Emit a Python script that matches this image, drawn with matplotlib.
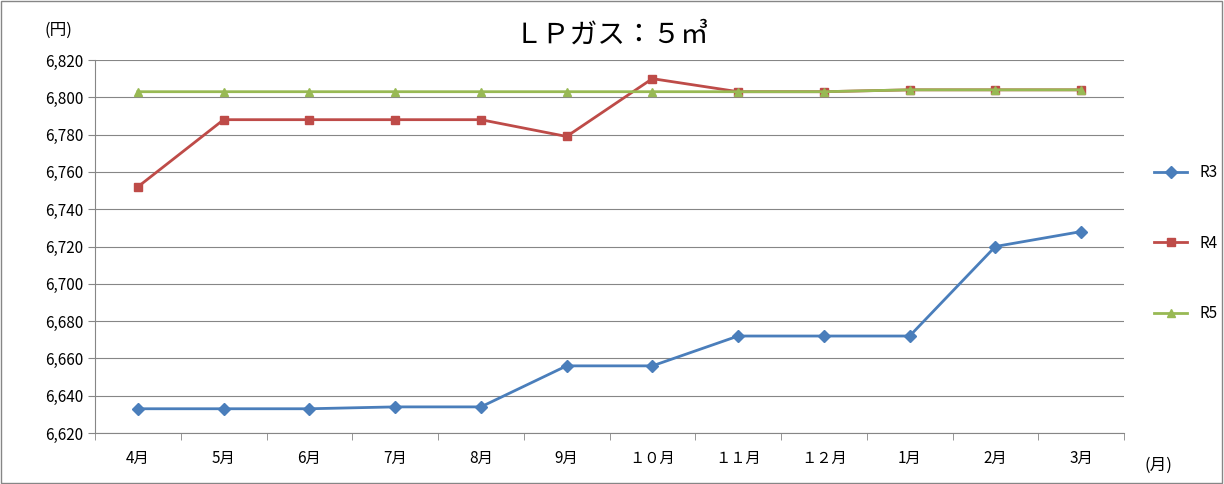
import matplotlib
matplotlib.use("Agg")
import matplotlib.pyplot as plt

plt.rcParams["font.family"] = ["Noto Sans CJK JP"]

months = ["4月", "5月", "6月", "7月", "8月", "9月", "１０月", "１１月", "１２月", "1月", "2月", "3月"]
r3 = [6633, 6633, 6633, 6634, 6634, 6656, 6656, 6672, 6672, 6672, 6720, 6728]
r4 = [6752, 6788, 6788, 6788, 6788, 6779, 6810, 6803, 6803, 6804, 6804, 6804]
r5 = [6803, 6803, 6803, 6803, 6803, 6803, 6803, 6803, 6803, 6804, 6804, 6804]
yticks = list(range(6620, 6821, 20))

fig = plt.figure(figsize=(12.24, 4.84), dpi=100)
ax = fig.add_axes([95/1224, 1-433/484, (1124-95)/1224, (433-60)/484])
x = range(len(months))
ax.plot(x, r3, color="#4a7ebb", marker="D", markersize=6, lw=2, label="R3")
ax.plot(x, r4, color="#be4b48", marker="s", markersize=6, lw=2, label="R4")
ax.plot(x, r5, color="#98b954", marker="^", markersize=6, lw=2, label="R5")
ax.set_xlim(-0.5, len(months)-0.5)
ax.set_ylim(6620, 6820)
ax.set_yticks(yticks)
ax.set_yticklabels([f"{v:,}" for v in yticks], fontsize=11)
ax.set_xticks(list(x))
ax.set_xticklabels(months, fontsize=11)
ax.set_xticks([i+0.5 for i in range(-1, len(months))], minor=True)
ax.tick_params(axis="x", which="major", length=0, pad=12)
ax.tick_params(axis="x", which="minor", length=5, color="#868686")
ax.tick_params(axis="y", length=5, color="#868686")
ax.grid(axis="y", color="#868686", lw=0.8)
for s in ["top", "right"]:
    ax.spines[s].set_visible(False)
for s in ["left", "bottom"]:
    ax.spines[s].set_color("#868686")
ax.set_axisbelow(True)
fig.text(1158/1224, 1-465/484, "(月)", fontsize=12, ha="center", va="center")
fig.text(58/1224, 1-30/484, "(円)", fontsize=12, ha="center", va="center")
fig.text(612/1224, 1-35/484, "ＬＰガス：５㎥", fontsize=20, ha="center", va="center")
fig.legend(loc="center left", bbox_to_anchor=(1140/1224, 1-243/484), frameon=False,
           fontsize=11, labelspacing=3.5, handlelength=2.2)
fig.patches.append(plt.Rectangle((0.001, 0.002), 0.997, 0.996, transform=fig.transFigure,
                                 fill=False, ec="#868686", lw=1))
fig.savefig("out.png", dpi=100)
